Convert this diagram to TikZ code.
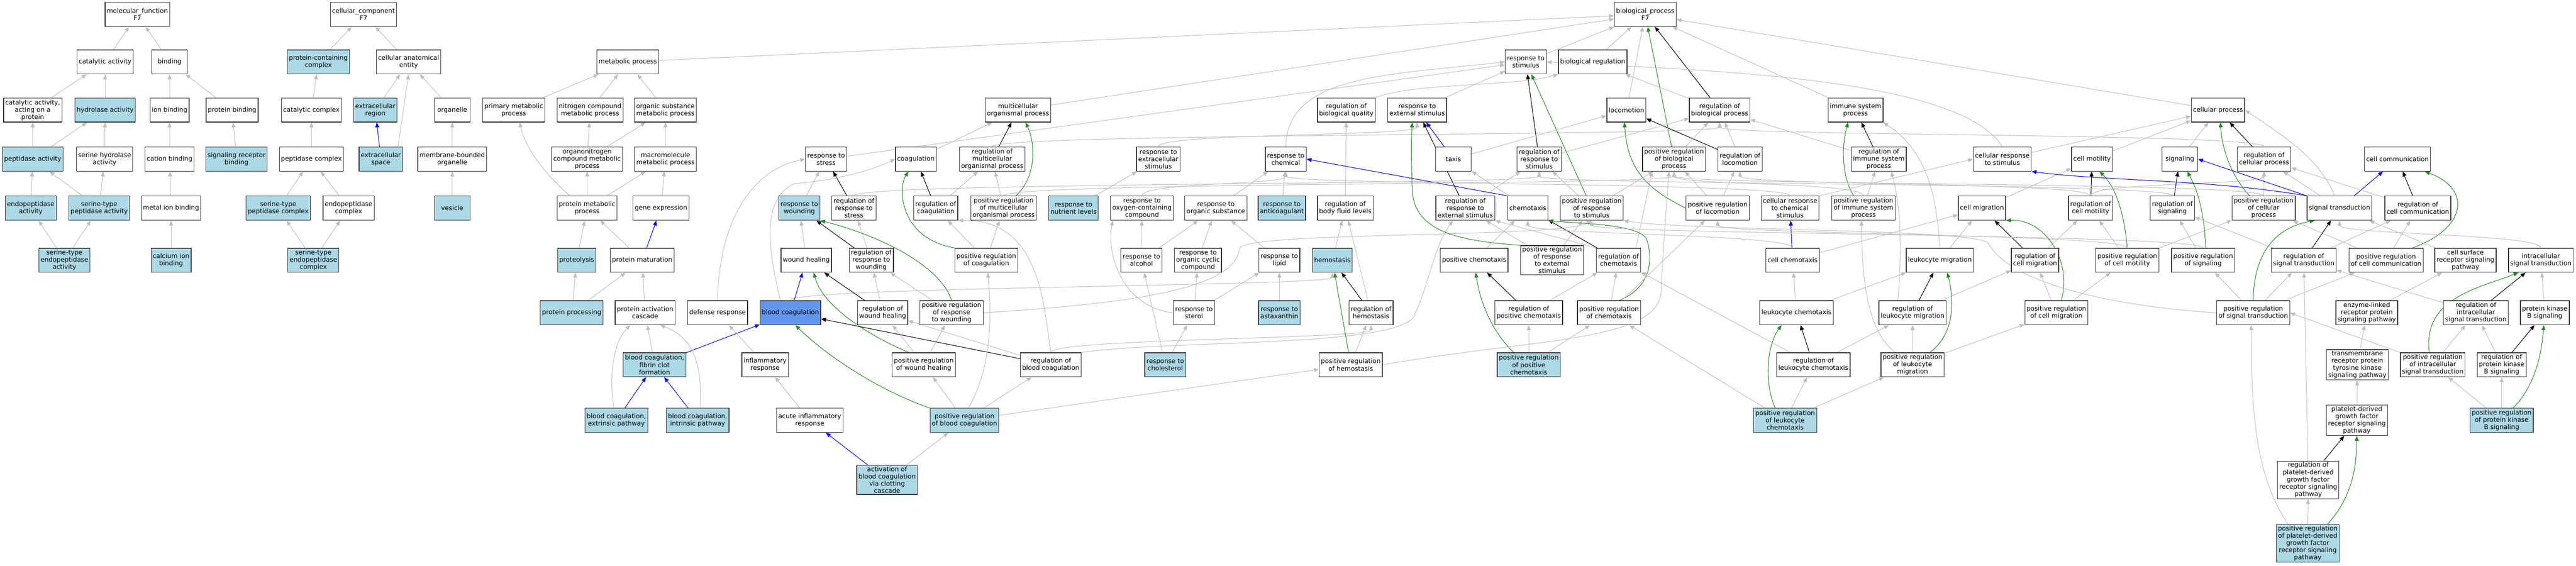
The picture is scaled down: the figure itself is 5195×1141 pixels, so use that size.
\documentclass[tikz,border=0pt]{standalone}
\usepackage{fontspec}
\setmainfont{DejaVu Sans}
\usetikzlibrary{arrows.meta,calc}
\definecolor{isagray}{HTML}{BEBEBE}
\definecolor{hitblue}{HTML}{ADD8E6}
\definecolor{focusblue}{HTML}{6495ED}
\definecolor{posgreen}{HTML}{228B22}
\pgfdeclarelayer{bg}
\pgfsetlayers{bg,main}
\newcommand{\hopedge}[3]{\draw[#1] (#2.north) .. controls ($(#2.north)+(0,28)$) and ($(#3.south)-(0,28)$) .. (#3.south);}
\begin{document}
\begin{tikzpicture}[x=1pt,y=1pt,
  term/.style={draw=black!80,line width=1.3pt,fill=white,align=center,inner xsep=3.5pt,inner ysep=2.5pt,minimum height=48.6pt,minimum width=72pt,font=\fontsize{12.9}{14.6}\selectfont},
  hit/.style={term,fill=hitblue},
  focus/.style={term,fill=focusblue},
  link/.style={line width=1.1pt,-{Triangle[length=10pt,width=8pt]}},
  isa/.style={link,isagray},
  reg/.style={link,black},
  preg/.style={link,posgreen},
  partof/.style={link,blue}]
\useasboundingbox (0,0) rectangle (5195,1141);

% molecular function
\node[term] (mf) at (277,1112) {molecular\_function\\F7};
\node[term] (catact) at (212,1016) {catalytic activity};
\node[term] (binding) at (342,1016) {binding};
\node[term] (catprot) at (66,919) {catalytic activity,\\acting on a\\protein};
\node[hit] (hydro) at (212,919) {hydrolase activity};
\node[term] (ionb) at (342,919) {ion binding};
\node[term] (protb) at (468,919) {protein binding};
\node[hit] (pept) at (66,820) {peptidase activity};
\node[term] (serhyd) at (211,820) {serine hydrolase\\activity};
\node[term] (catb) at (342,820) {cation binding};
\node[hit] (srb) at (477,820) {signaling receptor\\binding};
\node[hit] (endo) at (62,721) {endopeptidase\\activity};
\node[hit] (stpa) at (200,721) {serine-type\\peptidase activity};
\node[term] (metalb) at (345,721) {metal ion binding};
\node[hit] (step) at (130,616) {serine-type\\endopeptidase\\activity};
\node[hit] (calb) at (345,616) {calcium ion\\binding};

% cellular component
\node[term] (cc) at (733,1112) {cellular\_component\\F7};
\node[hit] (pcc) at (642,1016) {protein-containing\\complex};
\node[term] (cae) at (824,1016) {cellular anatomical\\entity};
\node[term] (catc) at (628,919) {catalytic complex};
\node[hit] (exr) at (757,919) {extracellular\\region};
\node[term] (organelle) at (912,919) {organelle};
\node[term] (pepc) at (628,820) {peptidase complex};
\node[hit] (exs) at (768,820) {extracellular\\space};
\node[term] (mbo) at (912,820) {membrane-bounded\\organelle};
\node[hit] (stpc) at (561,721) {serine-type\\peptidase complex};
\node[term] (endoc) at (703,721) {endopeptidase\\complex};
\node[hit] (vesicle) at (912,721) {vesicle};
\node[hit] (stec) at (632,616) {serine-type\\endopeptidase\\complex};

% biological process
\node[term] (bp) at (3318,1112) {biological\_process\\F7};
\node[term] (metab) at (1266,1016) {metabolic process};
\node[term] (rstim) at (3077,1016) {response to\\stimulus};
\node[term] (breg) at (3212,1016) {biological regulation};

\node[term] (pmp) at (1036,919) {primary metabolic\\process};
\node[term] (ncmp) at (1190,919) {nitrogen compound\\metabolic process};
\node[term] (osmp) at (1342,919) {organic substance\\metabolic process};
\node[term] (mop) at (2053,919) {multicellular\\organismal process};
\node[term] (rbq) at (2715,919) {regulation of\\biological quality};
\node[term] (rext) at (2858,919) {response to\\external stimulus};
\node[term] (loco) at (3280,919) {locomotion};
\node[term] (rbp) at (3468,919) {regulation of\\biological process};
\node[term] (isp) at (3742,919) {immune system\\process};
\node[term] (cp) at (4473,919) {cellular process};

\node[term] (onmp) at (1184,820) {organonitrogen\\compound metabolic\\process};
\node[term] (mmp) at (1342,820) {macromolecule\\metabolic process};
\node[term] (rstress) at (1666,820) {response to\\stress};
\node[term] (coag) at (1847,820) {coagulation};
\node[term] (rmop) at (2001,820) {regulation of\\multicellular\\organismal process};
\node[term] (rexs) at (2336,820) {response to\\extracellular\\stimulus};
\node[term] (rchem) at (2593,820) {response to\\chemical};
\node[term] (taxis) at (2931,820) {taxis};
\node[term] (rrstim) at (3104,820) {regulation of\\response to\\stimulus};
\node[term] (prbp) at (3376,820) {positive regulation\\of biological\\process};
\node[term] (rloco) at (3509,820) {regulation of\\locomotion};
\node[term] (risp) at (3789,820) {regulation of\\immune system\\process};
\node[term] (crstim) at (4038,820) {cellular response\\to stimulus};
\node[term] (cmot) at (4219,820) {cell motility};
\node[term] (sig) at (4396,820) {signaling};
\node[term] (rcp) at (4566,820) {regulation of\\cellular process};
\node[term] (ccom) at (4835,820) {cell communication};

\node[term] (protmp) at (1184,721) {protein metabolic\\process};
\node[term] (gexp) at (1333,721) {gene expression};
\node[hit] (rwound) at (1612,721) {response to\\wounding};
\node[term] (rrstress) at (1722,721) {regulation of\\response to\\stress};
\node[term] (rcoag) at (1887,721) {regulation of\\coagulation};
\node[term] (prmop) at (2024,721) {positive regulation\\of multicellular\\organismal process};
\node[hit] (rnut) at (2165,721) {response to\\nutrient levels};
\node[term] (roxy) at (2303,721) {response to\\oxygen-containing\\compound};
\node[term] (rorg) at (2452,721) {response to\\organic substance};
\node[hit] (ranti) at (2585,721) {response to\\anticoagulant};
\node[term] (rbfl) at (2713,721) {regulation of\\body fluid levels};
\node[term] (rrext) at (2955,721) {regulation of\\response to\\external stimulus};
\node[term] (chemo) at (3081,721) {chemotaxis};
\node[term] (prrstim) at (3210,721) {positive regulation\\of response\\to stimulus};
\node[term] (prloco) at (3464,721) {positive regulation\\of locomotion};
\node[term] (crchem) at (3610,721) {cellular response\\to chemical\\stimulus};
\node[term] (prisp) at (3758,721) {positive regulation\\of immune system\\process};
\node[term] (cmig) at (3997,721) {cell migration};
\node[term] (rcmot) at (4216,721) {regulation of\\cell motility};
\node[term] (rsig) at (4381,721) {regulation of\\signaling};
\node[term] (prcp) at (4565,721) {positive regulation\\of cellular\\process};
\node[term] (st) at (4718,721) {signal transduction};
\node[term] (rccom) at (4876,721) {regulation of\\cell communication};

\node[hit] (prot) at (1163,616) {proteolysis};
\node[term] (pmat) at (1295,616) {protein maturation};
\node[term] (wheal) at (1626,616) {wound healing};
\node[term] (rrwound) at (1757,616) {regulation of\\response to\\wounding};
\node[term] (prcoag) at (1989,616) {positive regulation\\of coagulation};
\node[term] (ralc) at (2302,616) {response to\\alcohol};
\node[term] (rocc) at (2416,616) {response to\\organic cyclic\\compound};
\node[term] (rlipid) at (2580,616) {response to\\lipid};
\node[hit] (hemo) at (2687,616) {hemostasis};
\node[term] (pchemo) at (2973,616) {positive chemotaxis};
\node[term] (prrext) at (3130,616) {positive regulation\\of response\\to external\\stimulus};
\node[term] (rchemo) at (3264,616) {regulation of\\chemotaxis};
\node[term] (cchemo) at (3615,616) {cell chemotaxis};
\node[term] (lmig) at (3912,616) {leukocyte migration};
\node[term] (rcmig) at (4104,616) {regulation of\\cell migration};
\node[term] (prcmot) at (4290,616) {positive regulation\\of cell motility};
\node[term] (prsig) at (4443,616) {positive regulation\\of signaling};
\node[term] (rst) at (4646,616) {regulation of\\signal transduction};
\node[term] (prccom) at (4812,616) {positive regulation\\of cell communication};
\node[term] (csrsp) at (4972,616) {cell surface\\receptor signaling\\pathway};
\node[term] (ist) at (5124,616) {intracellular\\signal transduction};

\node[hit] (pproc) at (1153,510) {protein processing};
\node[term] (pac) at (1301,510) {protein activation\\cascade};
\node[term] (defr) at (1447,510) {defense response};
\node[focus] (bcoag) at (1594,510) {blood coagulation};
\node[term] (rwh) at (1780,510) {regulation of\\wound healing};
\node[term] (prrwound) at (1919,510) {positive regulation\\of response\\to wounding};
\node[term] (rster) at (2408,510) {response to\\sterol};
\node[hit] (rasta) at (2580,510) {response to\\astaxanthin};
\node[term] (rhemo) at (2765,510) {regulation of\\hemostasis};
\node[term] (rpchemo) at (3083,510) {regulation of\\positive chemotaxis};
\node[term] (prchemo) at (3245,510) {positive regulation\\of chemotaxis};
\node[term] (lchemo) at (3623,510) {leukocyte chemotaxis};
\node[term] (rlmig) at (3857,510) {regulation of\\leukocyte migration};
\node[term] (prcmig) at (4147,510) {positive regulation\\of cell migration};
\node[term] (prst) at (4544,510) {positive regulation\\of signal transduction};
\node[term] (elrp) at (4773,510) {enzyme-linked\\receptor protein\\signaling pathway};
\node[term] (rist) at (4993,510) {regulation of\\intracellular\\signal transduction};
\node[term] (pkb) at (5132,510) {protein kinase\\B signaling};

\node[hit] (fibrin) at (1320,405) {blood coagulation,\\fibrin clot\\formation};
\node[term] (infl) at (1543,405) {inflammatory\\response};
\node[term] (prwh) at (1863,405) {positive regulation\\of wound healing};
\node[term] (rbc) at (2119,405) {regulation of\\blood coagulation};
\node[hit] (rchol) at (2350,405) {response to\\cholesterol};
\node[term] (prhemo) at (2724,405) {positive regulation\\of hemostasis};
\node[hit] (prpchemo) at (3083,405) {positive regulation\\of positive\\chemotaxis};
\node[term] (rlchemo) at (3657,405) {regulation of\\leukocyte chemotaxis};
\node[term] (prlmig) at (3857,405) {positive regulation\\of leukocyte\\migration};
\node[term] (rtk) at (4754,405) {transmembrane\\receptor protein\\tyrosine kinase\\signaling pathway};
\node[term] (prist) at (4906,405) {positive regulation\\of intracellular\\signal transduction};
\node[term] (rpkb) at (5045,405) {regulation of\\protein kinase\\B signaling};

\node[hit] (extr) at (1243,293) {blood coagulation,\\extrinsic pathway};
\node[hit] (intr) at (1407,293) {blood coagulation,\\intrinsic pathway};
\node[term] (acute) at (1633,293) {acute inflammatory\\response};
\node[hit] (prbc) at (1945,293) {positive regulation\\of blood coagulation};
\node[hit] (prlchemo) at (3600,293) {positive regulation\\of leukocyte\\chemotaxis};
\node[term] (pdgf) at (4753,293) {platelet-derived\\growth factor\\receptor signaling\\pathway};
\node[hit] (prpkb) at (5045,293) {positive regulation\\of protein kinase\\B signaling};

\node[hit] (act) at (1789,173) {activation of\\blood coagulation\\via clotting\\cascade};
\node[term] (rpdgf) at (4655,173) {regulation of\\platelet-derived\\growth factor\\receptor signaling\\pathway};
\node[hit] (prpdgf) at (4654,45) {positive regulation\\of platelet-derived\\growth factor\\receptor signaling\\pathway};

\begin{pgfonlayer}{bg}
% molecular function edges
\draw[isa] (catact) -- (mf);
\draw[isa] (binding) -- (mf);
\draw[isa] (catprot) -- (catact);
\draw[isa] (hydro) -- (catact);
\draw[isa] (ionb) -- (binding);
\draw[isa] (protb) -- (binding);
\draw[isa] (pept) -- (catprot);
\draw[isa] (pept) -- (hydro);
\draw[isa] (serhyd) -- (hydro);
\draw[isa] (catb) -- (ionb);
\draw[isa] (srb) -- (protb);
\draw[isa] (endo) -- (pept);
\draw[isa] (stpa) -- (pept);
\draw[isa] (stpa) -- (serhyd);
\draw[isa] (metalb) -- (catb);
\draw[isa] (step) -- (endo);
\draw[isa] (step) -- (stpa);
\draw[isa] (calb) -- (metalb);
% cellular component edges
\draw[isa] (pcc) -- (cc);
\draw[isa] (cae) -- (cc);
\draw[isa] (catc) -- (pcc);
\draw[isa] (exr) -- (cae);
\draw[isa] (organelle) -- (cae);
\draw[isa] (pepc) -- (catc);
\draw[partof] (exs) -- (exr);
\draw[isa] ([xshift=-10pt]exs.north east) -- (cae.south);
\draw[isa] (mbo) -- (organelle);
\draw[isa] (stpc) -- (pepc);
\draw[isa] (endoc) -- (pepc);
\draw[isa] (stec) -- (stpc);
\draw[isa] (stec) -- (endoc);
\draw[isa] (vesicle) -- (mbo);
% top of biological process
\draw[isa] (metab) -- (bp);
\draw[isa] (rstim) -- (bp);
\draw[isa] (breg) -- (bp);
\draw[isa] (mop) -- (bp);
\draw[isa] (loco) -- (bp);
\draw[reg] (rbp) -- (bp);
\draw[isa] (isp) -- (bp);
\draw[isa] (cp) -- (bp);
\draw[preg] (prbp) -- (bp);
% metabolism
\draw[isa] (pmp) -- (metab);
\draw[isa] (ncmp) -- (metab);
\draw[isa] (osmp) -- (metab);
\draw[isa] (onmp) -- (ncmp);
\draw[isa] (onmp) -- (osmp);
\draw[isa] (mmp) -- (osmp);
\draw[isa] ([xshift=-35pt]protmp.north) .. controls (1100,790) and (1060,840) .. ([xshift=12pt]pmp.south);
\draw[isa] (protmp) -- (onmp);
\draw[isa] (protmp) -- (mmp);
\draw[isa] (gexp) -- (mmp);
\draw[isa] (prot) -- (protmp);
\draw[isa] (pmat) -- (protmp);
\draw[partof] (pmat) -- (gexp);
\draw[isa] (pproc) -- (prot);
\draw[isa] (pproc) -- (pmat);
\draw[isa] (pac) -- (pmat);
\draw[isa] (fibrin) -- (pac);
\draw[partof] (fibrin) -- (bcoag);
\draw[isa] ([xshift=-5pt]extr.north) .. controls (1228,380) and (1236,450) .. ([xshift=-30pt]pac.south);
\draw[partof] (extr) -- (fibrin);
\draw[isa] ([xshift=5pt]intr.north) .. controls (1416,400) and (1402,460) .. ([xshift=30pt]pac.south);
\draw[partof] (intr) -- (fibrin);
% stress and wounding
\draw[isa] (rstress) -- (rstim);
\draw[isa] (defr.north) .. controls (1450,700) and (1520,800) .. (rstress.west);
\draw[isa] (infl) -- (defr);
\draw[isa] (acute) -- (infl);
\draw[partof] (act) -- (acute);
\draw[isa] (act) -- (prbc);
\draw[isa] (rwound) -- (rstress);
\draw[reg] (rrstress) -- (rstress);
\hopedge{isa}{rrstress}{rrstim}
\draw[isa] (wheal) -- (rwound);
\draw[reg] (rrwound) -- (rwound);
\draw[isa] (rrwound) -- (rrstress);
\draw[preg] (prrwound.north) .. controls (1895,610) and (1760,670) .. (rwound.south east);
\draw[isa] (prrwound) -- (rrwound);
\draw[isa] (prrwound.east) .. controls (2300,530) and (2490,560) .. (2500,640) .. controls (2510,675) and (3150,660) .. (prrstim.south);
\hopedge{isa}{bcoag}{hemo}
\draw[isa] ([xshift=-20pt]bcoag.north) .. controls (1545,650) and (1540,740) .. (1600,770) .. controls (1650,775) and (1730,785) .. (coag.west);
\draw[partof] (bcoag) -- (wheal);
\draw[reg] (rwh) -- (wheal);
\draw[isa] (rwh) -- (rrwound);
\draw[preg] ([xshift=-30pt]prwh.north) .. controls (1760,460) and (1660,520) .. ([xshift=15pt]wheal.south);
\draw[isa] (prwh) -- (rwh);
\draw[isa] (prwh) -- (prrwound);
\draw[reg] (rbc) -- (bcoag);
\draw[isa] (rbc) -- (rwh);
\draw[isa] (rbc.north) .. controls (2105,520) and (2100,700) .. (rcoag.south east);
\hopedge{isa}{rbc}{rhemo}
\draw[isa] (rbc.north east) .. controls (2350,455) and (2800,440) .. (2850,500) .. controls (2880,560) and (2890,640) .. ([xshift=-25pt]rrext.south);
% coagulation
\draw[isa] (coag) -- (mop);
\draw[reg] (rmop) -- (mop);
\draw[preg] ([xshift=25pt]prmop.north) .. controls (2095,790) and (2085,860) .. ([xshift=15pt]mop.south);
\hopedge{isa}{rmop}{rbp}
\draw[isa] (prmop) -- (rmop);
\hopedge{isa}{prmop}{prbp}
\draw[reg] (rcoag) -- (coag);
\draw[preg] (prcoag.north west) .. controls (1815,660) and (1810,760) .. ([xshift=-15pt]coag.south);
\draw[isa] (rcoag) -- (rmop);
\draw[isa] (prcoag) -- (rcoag);
\draw[isa] (prcoag) -- (prmop);
\draw[preg] (prbc.north west) .. controls (1780,350) and (1670,420) .. ([xshift=10pt]bcoag.south);
\draw[isa] (prbc) -- (prwh);
\draw[isa] (prbc) -- (rbc);
\draw[isa] ([xshift=8pt]prbc.north) .. controls (2000,400) and (2000,500) .. ([xshift=3pt]prcoag.south);
\draw[isa] (prbc) -- (prhemo);
% chemicals
\hopedge{isa}{rexs}{rext}
\draw[isa] (rnut) -- (rexs);
\hopedge{isa}{roxy}{rchem}
\draw[isa] (rorg) -- (rchem);
\draw[isa] (ranti) -- (rchem);
\draw[isa] (ralc) -- (roxy);
\draw[isa] (ralc) -- (rorg);
\draw[isa] (rocc) -- (rorg);
\draw[isa] (rlipid) -- (rorg);
\draw[isa] (rster) -- (rocc);
\draw[isa] (rster) -- (rlipid);
\draw[isa] (rster.west) .. controls (2270,520) and (2230,620) .. ([xshift=5pt]roxy.south west);
\draw[isa] (rchol) -- (rster);
\draw[isa] (rchol) -- (ralc);
\draw[isa] (rasta) -- (rlipid);
\draw[isa] (rchem.north) .. controls (2595,990) and (2800,990) .. (rstim.west);
% quality and hemostasis
\draw[isa] (rbq.north east) .. controls (2850,975) and (3050,965) .. (breg.south west);
\draw[isa] (rbp) -- (breg);
\draw[isa] (rbfl) -- (rbq);
\draw[isa] (hemo) -- (rbfl);
\draw[reg] (rhemo) -- (hemo);
\draw[isa] (rhemo) -- (rbfl);
\draw[preg] (prhemo) -- (hemo);
\draw[isa] (prhemo) -- (rhemo);
\draw[isa] (prhemo.east) .. controls (3100,460) and (3355,450) .. (3350,560) .. controls (3355,650) and (3360,720) .. ([xshift=-10pt]prbp.south);
% external stimulus and taxis
\draw[isa] (rext) -- (rstim);
\draw[reg] (rrstim) -- (rstim);
\draw[preg] (prrstim) -- (rstim);
\draw[partof] (taxis) -- (rext);
\draw[isa] (taxis) -- (loco);
\draw[reg] (rrext) -- (rext);
\draw[isa] (rrext) -- (rrstim);
\draw[preg] (prrext.north west) .. controls (2950,655) and (2850,670) .. (2848,760) .. controls (2846,820) and (2846,860) .. ([xshift=-10pt]rext.south);
\draw[isa] (prrext) -- (rrext);
\draw[isa] (prrext) -- (prrstim);
\draw[isa] (chemo) -- (taxis);
\draw[partof] (chemo.north west) -- (rchem.east);
\draw[isa] (pchemo) -- (chemo);
\draw[reg] (rchemo) -- (chemo);
\draw[isa] (rchemo.north west) -- (rrext.south east);
\draw[isa] ([xshift=-10pt]rchemo.north east) -- ([xshift=20pt]prbp.south west);
\draw[reg] (rpchemo) -- (pchemo);
\draw[isa] (rpchemo) -- (rchemo);
\draw[preg] ([xshift=-30pt]prpchemo.north) .. controls (3010,470) and (2985,530) .. ([xshift=3pt]pchemo.south);
\draw[isa] (prpchemo) -- (rpchemo);
\draw[isa] (prpchemo) -- (prchemo);
\draw[preg] ([xshift=20pt]prchemo.north) .. controls (3330,560) and (3335,620) .. (3320,660) .. controls (3300,690) and (3180,690) .. (chemo.south east);
\draw[isa] (prchemo) -- (rchemo);
\draw[isa] (prchemo) -- (prloco);
\draw[isa] (prlchemo) -- (prchemo);
% locomotion
\draw[reg] (rloco) -- (loco);
\draw[isa] (rloco) -- (rbp);
\draw[preg] (prloco.west) .. controls (3320,760) and (3282,800) .. ([xshift=-4pt]loco.south);
\draw[isa] (prloco) -- (rloco);
\draw[isa] (prloco) -- (prbp);
\draw[isa] (prbp) -- (rbp);
\draw[isa] (prrstim) -- (rrstim);
\draw[isa] (prrstim) -- (prbp);
\draw[isa] (rrstim) -- (rbp);
% immune system and leukocytes
\draw[reg] (risp) -- (isp);
\draw[isa] (risp) -- (rbp);
\draw[preg] ([xshift=-20pt]prisp.north) .. controls (3712,790) and (3715,850) .. ([xshift=-15pt]isp.south);
\draw[isa] (prisp) -- (risp);
\hopedge{isa}{prisp}{prbp}
\draw[isa] (lmig) -- (cmig);
\draw[isa] (lmig.north) .. controls (3905,760) and (3880,840) .. (isp.south east);
\draw[isa] (lchemo) -- (cchemo);
\draw[isa] (lchemo) -- (lmig);
\draw[reg] (rlmig) -- (lmig);
\draw[isa] (rlmig) -- (rcmig);
\draw[isa] ([xshift=-30pt]rlmig.north) .. controls (3835,620) and (3835,720) .. ([xshift=25pt]risp.south);
\draw[preg] ([xshift=35pt]prlmig.north) .. controls (3945,470) and (3940,540) .. ([xshift=15pt]lmig.south);
\draw[isa] (prlmig) -- (rlmig);
\draw[isa] (prlmig) -- (prcmig);
\draw[isa] ([xshift=-35pt]prlmig.north) .. controls (3770,470) and (3755,560) .. ([xshift=-4pt]prisp.south);
\draw[reg] (rlchemo) -- (lchemo);
\draw[isa] (rlchemo) -- (rlmig);
\draw[isa] (rlchemo) -- (rchemo);
\draw[preg] ([xshift=-20pt]prlchemo.north) .. controls (3560,360) and (3560,440) .. ([xshift=-30pt]lchemo.south);
\draw[isa] (prlchemo) -- (rlchemo);
\draw[isa] (prlchemo) -- (prlmig);
\hopedge{isa}{cchemo}{chemo}
\draw[partof] (cchemo) -- (crchem);
\draw[isa] (cchemo) -- (cmig);
\draw[isa] (crchem.north east) -- (crstim.west);
\hopedge{isa}{crchem}{rchem}
\draw[isa] (crstim.north) .. controls (3950,990) and (3400,1000) .. (rstim.east);
\draw[isa] (crstim) -- (cp);
% motility
\draw[isa] (cmig) -- (cmot);
\draw[reg] (rcmot) -- (cmot);
\hopedge{isa}{rcmot}{rloco}
\hopedge{isa}{rcmot}{rcp}
\draw[reg] (rcmig) -- (cmig);
\draw[isa] (rcmig) -- (rcmot);
\draw[preg] (prcmot.north) .. controls (4285,700) and (4270,760) .. ([xshift=15pt]cmot.south);
\draw[isa] (prcmot) -- (rcmot);
\hopedge{isa}{prcmot}{prloco}
\draw[isa] (prcmot) -- (prcp);
\draw[preg] ([xshift=10pt]prcmig.north) .. controls (4180,620) and (4120,700) .. (cmig.south east);
\draw[isa] (prcmig) -- (rcmig);
\draw[isa] (prcmig) -- (prcmot);
\draw[isa] (cmot) -- (cp);
% signalling
\draw[isa] (sig) -- (cp);
\draw[reg] (rsig) -- (sig);
\hopedge{isa}{rsig}{rrstim}
\draw[preg] ([xshift=5pt]prsig.north) .. controls (4445,720) and (4430,760) .. ([xshift=15pt]sig.south);
\draw[isa] (prsig) -- (rsig);
\hopedge{isa}{prsig}{prrstim}
\draw[reg] (rcp) -- (cp);
\hopedge{isa}{rcp}{rbp}
\draw[preg] ([xshift=-28pt]prcp.north) .. controls (4495,790) and (4480,850) .. ([xshift=5pt]cp.south);
\draw[isa] (prcp) -- (rcp);
\hopedge{isa}{prcp}{prbp}
\draw[partof] (st.north west) -- (sig.east);
\draw[partof] (st) -- (ccom);
\draw[partof] (st.north west) .. controls (4450,780) and (4250,775) .. (crstim.south east);
\draw[isa] ([xshift=-10pt]st.north) .. controls (4680,820) and (4600,870) .. (cp.east);
\draw[isa] (st) -- (rcp);
\draw[reg] (rccom) -- (ccom);
\draw[isa] (rccom) -- (rcp);
\draw[preg] ([xshift=53pt]prccom.north) .. controls (4975,680) and (4985,760) .. ([xshift=55pt]ccom.south);
\draw[isa] (prccom) -- (rccom);
\draw[isa] (prccom) -- (prcp);
\draw[reg] (rst) -- (st);
\draw[isa] (rst) -- (rsig);
\draw[isa] (rst) -- (rccom);
\draw[isa] (csrsp) -- (st);
\hopedge{isa}{ist}{st}
\draw[preg] (prst.north) .. controls (4545,620) and (4580,680) .. ([xshift=-50pt]st.south);
\draw[isa] (prst) -- (rst);
\draw[isa] (prst) -- (prsig);
\draw[isa] (prst) -- (prccom);
\draw[isa] (prst.west) .. controls (4300,520) and (4060,560) .. (4010,650) .. controls (3990,680) and (3400,675) .. (prrstim.south east);
\draw[isa] (elrp) -- (csrsp);
\draw[reg] (rist) -- (ist);
\draw[isa] (rist) -- (rst);
\draw[isa] (pkb) -- (ist);
\draw[isa] (rtk) -- (elrp);
\draw[preg] ([xshift=-7pt]prist.north) .. controls (4885,540) and (5000,560) .. ([xshift=-45pt]ist.south);
\draw[isa] (prist) -- (rist);
\draw[isa] (prist.north west) -- (prst.east);
\draw[reg] (rpkb) -- (pkb);
\draw[isa] (rpkb) -- (rist);
\draw[preg] ([xshift=23pt]prpkb.north) .. controls (5110,360) and (5125,420) .. ([xshift=-2pt]pkb.south);
\draw[isa] (prpkb) -- (rpkb);
\draw[isa] (prpkb) -- (prist);
\draw[isa] (pdgf) -- (rtk);
\draw[reg] (rpdgf) -- (pdgf);
\draw[isa] (rpdgf) -- (rst);
\draw[preg] ([xshift=40pt]prpdgf.north) .. controls (4745,140) and (4752,200) .. (pdgf.south);
\draw[isa] (prpdgf) -- (rpdgf);
\draw[isa] ([xshift=-40pt]prpdgf.north) .. controls (4550,180) and (4540,300) .. ([xshift=-4pt]prst.south);
\end{pgfonlayer}
\end{tikzpicture}
\end{document}
